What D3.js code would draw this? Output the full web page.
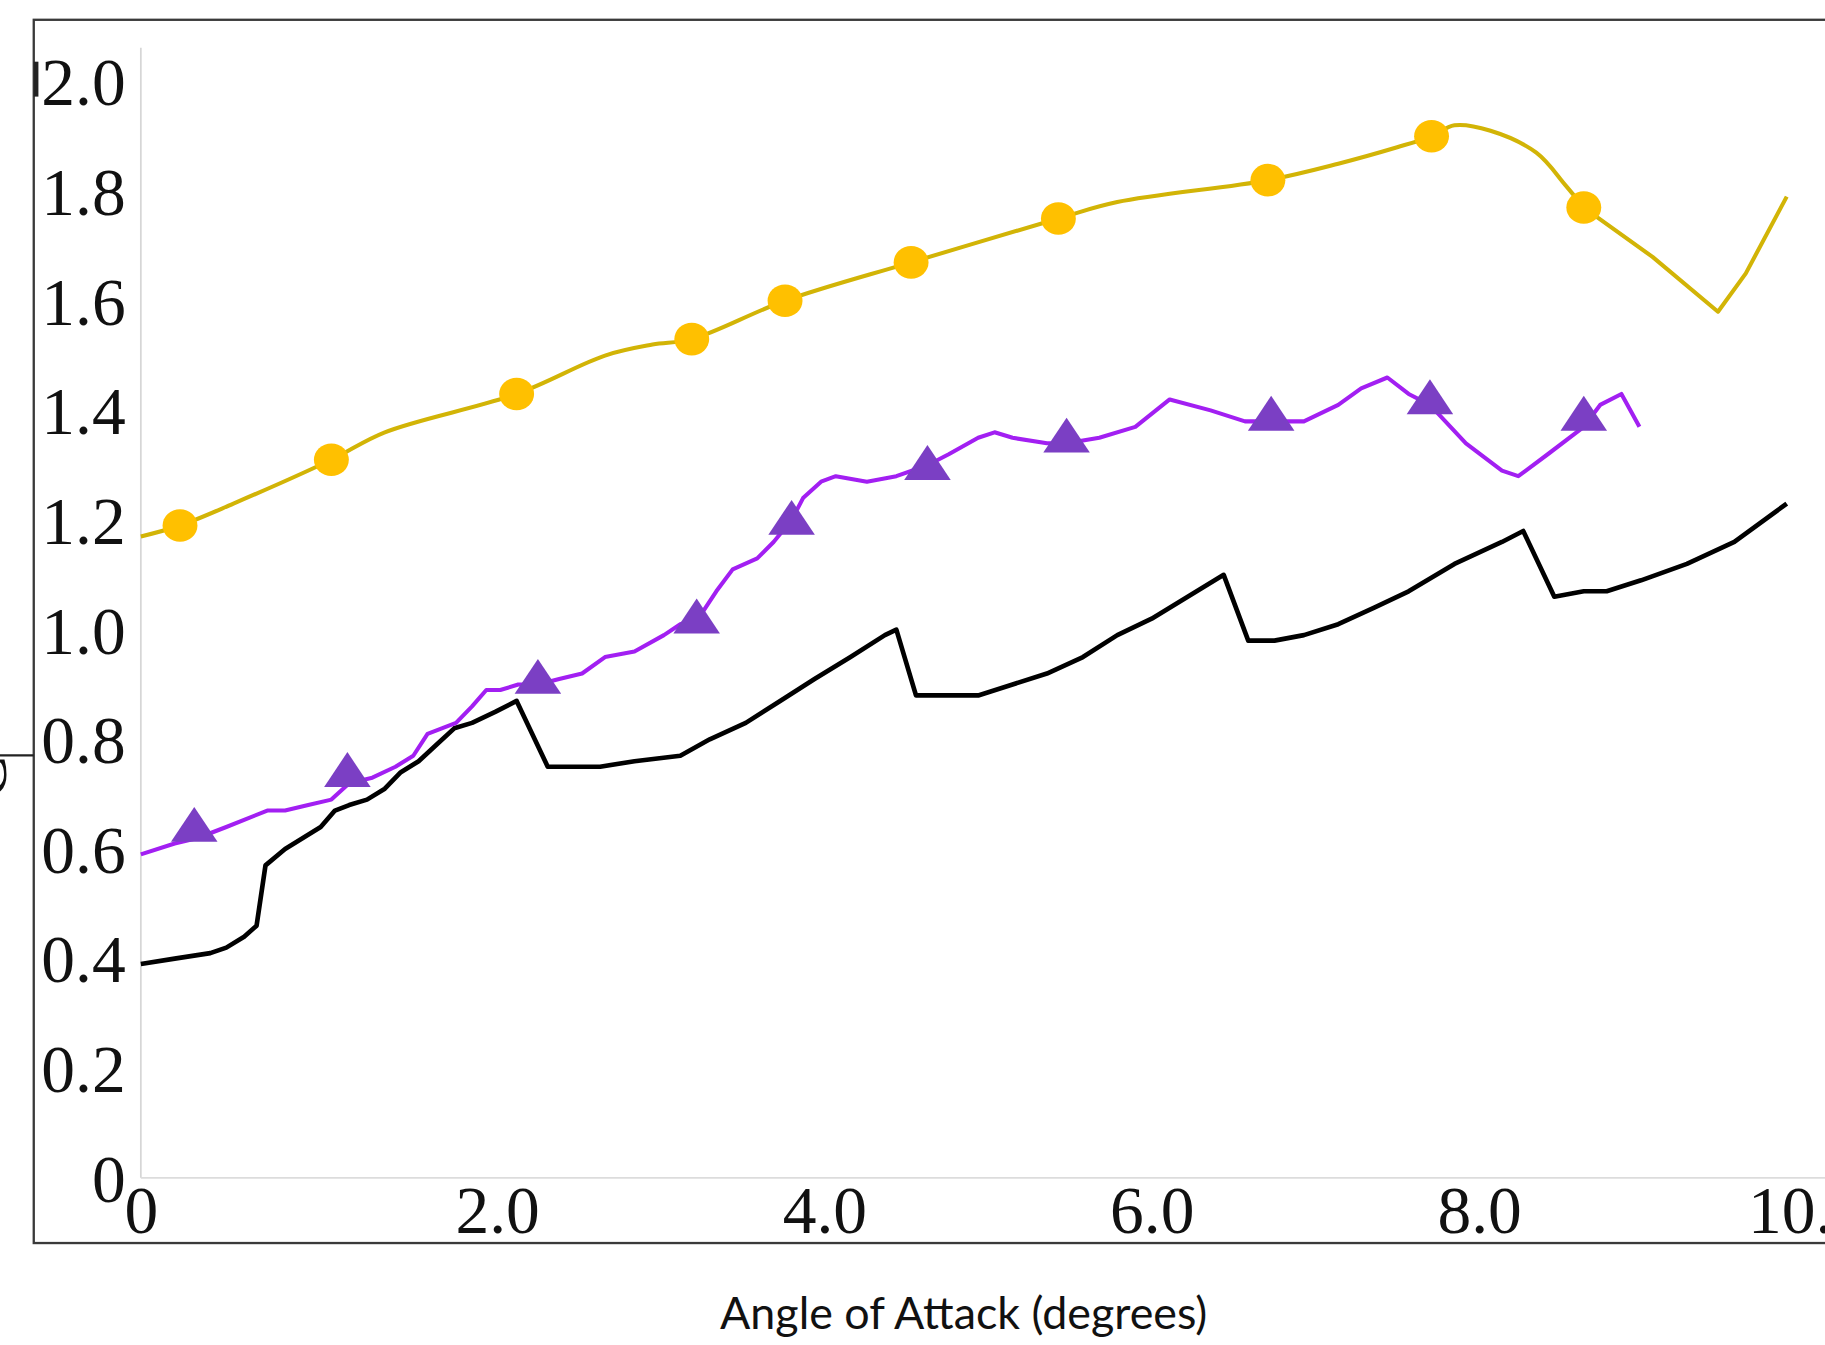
<!DOCTYPE html>
<html>
<head>
<meta charset="utf-8">
<script src="https://cdn.jsdelivr.net/npm/d3@7"></script>
<style>
  body { margin: 0; background: #fff; }
  svg { display: block; }
</style>
</head>
<body>
<svg id="chart"></svg>
<script>
const width = 1825;
const height = 1345;

// angle of attack (deg) and lift values
const yellowX = [0, 0.22, 0.52, 1.07, 1.37, 2.12, 2.66, 2.95, 3.19, 3.76, 4.53, 5.43, 5.79, 6.71, 7.14, 7.50, 7.71, 7.85, 8.07, 8.35, 8.53, 8.64, 9.06, 9.46, 9.63, 9.88];
const yellowY = [1.17, 1.19, 1.23, 1.31, 1.36, 1.43, 1.50, 1.52, 1.53, 1.60, 1.67, 1.75, 1.78, 1.82, 1.85, 1.88, 1.90, 1.92, 1.91, 1.87, 1.81, 1.77, 1.68, 1.58, 1.65, 1.79];
const yellowMarkX = [0.22, 1.07, 2.12, 3.19, 3.76, 4.53, 5.43, 6.71, 7.71, 8.64];
const yellowMarkY = [1.19, 1.31, 1.43, 1.53, 1.60, 1.67, 1.75, 1.82, 1.90, 1.77];

const purpleX = [0, 0.19, 0.32, 0.48, 0.71, 0.81, 0.94, 1.07, 1.17, 1.30, 1.43, 1.53, 1.61, 1.69, 1.77, 1.86, 1.94, 2.02, 2.13, 2.25, 2.38, 2.52, 2.66, 2.84, 3.02, 3.12, 3.23, 3.34, 3.44, 3.59, 3.69, 3.80, 3.87, 3.98, 4.07, 4.26, 4.44, 4.63, 4.76, 4.94, 5.04, 5.15, 5.36, 5.48, 5.68, 5.90, 6.11, 6.36, 6.57, 6.73, 6.93, 7.14, 7.28, 7.44, 7.57, 7.70, 7.92, 8.14, 8.24, 8.42, 8.64, 8.74, 8.87, 8.98];
const purpleY = [0.59, 0.61, 0.62, 0.64, 0.67, 0.67, 0.68, 0.69, 0.72, 0.73, 0.75, 0.77, 0.81, 0.82, 0.83, 0.86, 0.89, 0.89, 0.90, 0.90, 0.91, 0.92, 0.95, 0.96, 0.99, 1.01, 1.02, 1.07, 1.11, 1.13, 1.16, 1.20, 1.24, 1.27, 1.28, 1.27, 1.28, 1.30, 1.32, 1.35, 1.36, 1.35, 1.34, 1.34, 1.35, 1.37, 1.42, 1.40, 1.38, 1.38, 1.38, 1.41, 1.44, 1.46, 1.43, 1.41, 1.34, 1.29, 1.28, 1.32, 1.37, 1.41, 1.43, 1.37];
const purpleMarkX = [0.30, 1.16, 2.25, 3.22, 3.80, 4.63, 5.48, 6.73, 7.70, 8.64];
const purpleMarkY = [0.63, 0.73, 0.90, 1.01, 1.19, 1.29, 1.34, 1.38, 1.41, 1.38];

const blackX = [0, 0.19, 0.39, 0.48, 0.58, 0.65, 0.70, 0.81, 0.91, 1.01, 1.09, 1.17, 1.27, 1.37, 1.46, 1.56, 1.66, 1.76, 1.86, 1.99, 2.12, 2.31, 2.45, 2.63, 2.84, 3.12, 3.30, 3.52, 3.73, 3.94, 4.16, 4.37, 4.44, 4.56, 4.72, 4.94, 5.15, 5.36, 5.58, 5.79, 6.00, 6.22, 6.44, 6.59, 6.75, 6.93, 7.14, 7.36, 7.57, 7.85, 8.14, 8.27, 8.46, 8.64, 8.78, 8.99, 9.27, 9.56, 9.88];
const blackY = [0.39, 0.40, 0.41, 0.42, 0.44, 0.46, 0.57, 0.60, 0.62, 0.64, 0.67, 0.68, 0.69, 0.71, 0.74, 0.76, 0.79, 0.82, 0.83, 0.85, 0.87, 0.75, 0.75, 0.75, 0.76, 0.77, 0.80, 0.83, 0.87, 0.91, 0.95, 0.99, 1.00, 0.88, 0.88, 0.88, 0.90, 0.92, 0.95, 0.99, 1.02, 1.06, 1.10, 0.98, 0.98, 0.99, 1.01, 1.04, 1.07, 1.12, 1.16, 1.18, 1.06, 1.07, 1.07, 1.09, 1.12, 1.16, 1.23];

const yTicks = [0, 0.2, 0.4, 0.6, 0.8, 1.0, 1.2, 1.4, 1.6, 1.8, 2.0];
const xTicks = [0, 2, 4, 6, 8, 10];
const xTitle = "Angle of Attack (degrees)";

// the picture is laid out on a 1568 wide grid, then scaled up
const svg = d3.select("#chart")
  .attr("width", width)
  .attr("height", height)
  .attr("viewBox", "0 0 1568 1155.6");

// x labels in the source are not evenly spaced between 0 and 2
const x = d3.scaleLinear().domain([0, 2, 10]).range([121, 427, 1552]);
const y = d3.scaleLinear().domain([0, 2]).range([1012, 70]);

// outer frame
svg.append("rect")
  .attr("x", 29).attr("y", 17)
  .attr("width", 1600).attr("height", 1051)
  .attr("fill", "none")
  .attr("stroke", "#3a3a3a")
  .attr("stroke-width", 2);
svg.append("rect")
  .attr("x", 29).attr("y", 53).attr("width", 4).attr("height", 30)
  .attr("fill", "#222");

// cut-off y title on the left edge
svg.append("line")
  .attr("x1", 0).attr("x2", 29).attr("y1", 649).attr("y2", 649)
  .attr("stroke", "#222").attr("stroke-width", 2);
svg.append("text")
  .attr("transform", "translate(5,668) rotate(-90)")
  .attr("text-anchor", "middle")
  .attr("font-family", "Liberation Serif")
  .attr("font-size", 56)
  .attr("fill", "#111")
  .text("C");

// light axis lines
svg.append("line")
  .attr("x1", 121).attr("x2", 121).attr("y1", 41).attr("y2", y(0))
  .attr("stroke", "#d6d6d6").attr("stroke-width", 1.5);
svg.append("line")
  .attr("x1", 121).attr("x2", 1568).attr("y1", y(0)).attr("y2", y(0))
  .attr("stroke", "#dcdcdc").attr("stroke-width", 1.5);

const fmt = d => d === 0 ? "0" : d.toFixed(1);

const yAxis = svg.append("g")
  .attr("transform", "translate(108,0)")
  .call(d3.axisLeft(y).tickValues(yTicks).tickFormat(fmt).tickSize(0).tickPadding(0));
yAxis.select(".domain").remove();
yAxis.selectAll("text")
  .attr("x", 0)
  .attr("dy", null)
  .attr("y", 20)
  .attr("font-family", "Liberation Serif")
  .attr("font-size", 58)
  .attr("fill", "#111");

const xAxis = svg.append("g")
  .attr("transform", "translate(0," + y(0) + ")")
  .call(d3.axisBottom(x).tickValues(xTicks).tickFormat(fmt).tickSize(0).tickPadding(0));
xAxis.select(".domain").remove();
xAxis.selectAll("text")
  .attr("dy", null)
  .attr("y", 47)
  .attr("font-family", "Liberation Serif")
  .attr("font-size", 58)
  .attr("fill", "#111");

svg.append("text")
  .attr("x", 828).attr("y", 1142)
  .attr("text-anchor", "middle")
  .attr("font-family", "Lato")
  .attr("font-size", 38.5)
  .attr("fill", "#111")
  .text(xTitle);

const line = d3.line()
  .x(d => x(d[0]))
  .y(d => y(d[1]));

const smooth = d3.line()
  .x(d => x(d[0]))
  .y(d => y(d[1]))
  .curve(d3.curveCatmullRom.alpha(0.5));

const zip = (a, b) => a.map((v, i) => [v, b[i]]);

svg.append("path")
  .datum(zip(blackX, blackY))
  .attr("d", line)
  .attr("fill", "none")
  .attr("stroke", "#000")
  .attr("stroke-width", 4)
  .attr("stroke-linejoin", "round");

svg.append("path")
  .datum(zip(purpleX, purpleY))
  .attr("d", line)
  .attr("fill", "none")
  .attr("stroke", "#a21ff2")
  .attr("stroke-width", 3.5)
  .attr("stroke-linejoin", "round");

// yellow: smooth up to the last dot, then a sharp V
const yellow = zip(yellowX, yellowY);
const split = 21;
svg.append("path")
  .datum(yellow.slice(0, split + 1))
  .attr("d", smooth)
  .attr("fill", "none")
  .attr("stroke", "#d2b406")
  .attr("stroke-width", 3.5)
  .attr("stroke-linejoin", "round");
svg.append("path")
  .datum(yellow.slice(split))
  .attr("d", line)
  .attr("fill", "none")
  .attr("stroke", "#d2b406")
  .attr("stroke-width", 3.5)
  .attr("stroke-linejoin", "round");

// markers: wide flat triangles and slightly oval dots
const triW = 40, triH = 30;
svg.selectAll(".tri")
  .data(zip(purpleMarkX, purpleMarkY))
  .enter()
  .append("path")
  .attr("class", "tri")
  .attr("d", d => {
    const cx = x(d[0]), by = y(d[1]) + 8;
    return "M" + (cx - triW / 2) + "," + by + "L" + (cx + triW / 2) + "," + by +
      "L" + cx + "," + (by - triH) + "Z";
  })
  .attr("fill", "#7b3fc4");

svg.selectAll(".dot")
  .data(zip(yellowMarkX, yellowMarkY))
  .enter()
  .append("ellipse")
  .attr("class", "dot")
  .attr("cx", d => x(d[0]))
  .attr("cy", d => y(d[1]))
  .attr("rx", 15)
  .attr("ry", 14)
  .attr("fill", "#ffc000");
</script>
</body>
</html>
